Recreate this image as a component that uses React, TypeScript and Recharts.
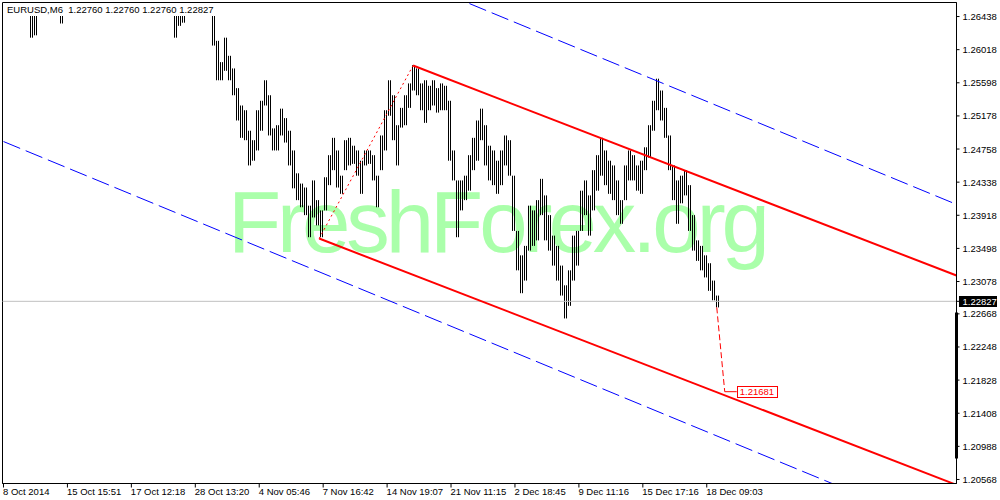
import React from 'react';
import {
  ComposedChart,
  Bar,
  XAxis,
  YAxis,
  ReferenceLine,
  ReferenceArea,
  ReferenceDot,
} from 'recharts';

const FONT = "'Liberation Sans', Arial, sans-serif";

const symbolInfo = 'EURUSD,M6  1.22760 1.22760 1.22760 1.22827';
const watermark = 'FreshForex.org';

// time axis: bar number (range bars, 2 px each in the terminal)
const timeTicks = [0, 32, 64, 96, 128, 160, 192, 224, 256, 288, 320, 352];
const timeLabels = [
  '8 Oct 2014', '15 Oct 15:51', '17 Oct 12:18', '28 Oct 13:20', '4 Nov 05:46', '7 Nov 16:42',
  '14 Nov 19:07', '21 Nov 11:15', '2 Dec 18:45', '9 Dec 11:16', '15 Dec 17:16', '18 Dec 09:03',
];

const priceTicks = [
  1.26438, 1.26018, 1.25598, 1.25178, 1.24758, 1.24338, 1.23918, 1.23498,
  1.23078, 1.22668, 1.22248, 1.21828, 1.21408, 1.20988, 1.20568,
];
const lastPrice = 1.22827;
const targetPrice = 1.21681;

const PRICE_MIN = 1.20517;
const PRICE_MAX = 1.26616;
const IDX_MIN = -0.5;
const IDX_MAX = 477;

// bars (one sample per pair of terminal bars)
const barIdx = [
  14, 16, 29, 86, 88, 90,
  105, 107, 109, 111, 113, 115, 117, 119, 121, 123, 125, 127, 129, 131, 133, 135, 137, 139,
  141, 143, 145, 147, 149, 151, 153, 155, 157, 159, 161, 163, 165, 167, 169, 171, 173, 175,
  177, 179, 181, 183, 185, 187, 189, 191, 193, 195, 197, 199, 201, 203, 205, 207, 209, 211,
  213, 215, 217, 219, 221, 223, 225, 227, 229, 231, 233, 235, 237, 239, 241, 243, 245, 247,
  249, 251, 253, 255, 257, 259, 261, 263, 265, 267, 269, 271, 273, 275, 277, 279, 281, 283,
  285, 287, 289, 291, 293, 295, 297, 299, 301, 303, 305, 307, 309, 311, 313, 315, 317, 319,
  321, 323, 325, 327, 329, 331, 333, 335, 337, 339, 341, 343, 345, 347, 349, 351, 353, 355, 357,
];
const barHigh = [
  1.2680, 1.2680, 1.2680, 1.2680, 1.2680, 1.2680,
  1.2680, 1.2613, 1.2586, 1.2617, 1.2594, 1.2578, 1.2553, 1.2531, 1.2525, 1.2499, 1.2487, 1.2525,
  1.2537, 1.2563, 1.2544, 1.2502, 1.2506, 1.2527, 1.2515, 1.2499, 1.2474, 1.2445, 1.2432, 1.2427,
  1.2404, 1.2436, 1.2411, 1.2398, 1.2440, 1.2468, 1.2490, 1.2474, 1.2442, 1.2487, 1.2490, 1.2480,
  1.2474, 1.2461, 1.2474, 1.2474, 1.2468, 1.2442, 1.2493, 1.2525, 1.2563, 1.2544, 1.2506, 1.2528,
  1.2544, 1.2559, 1.2582, 1.2578, 1.2559, 1.2563, 1.2556, 1.2563, 1.2553, 1.2559, 1.2556, 1.2537,
  1.2474, 1.2436, 1.2436, 1.2442, 1.2468, 1.2490, 1.2512, 1.2527, 1.2506, 1.2480, 1.2474, 1.2461,
  1.2474, 1.2493, 1.2487, 1.2442, 1.2372, 1.2341, 1.2353, 1.2404, 1.2398, 1.2411, 1.2438, 1.2417,
  1.2392, 1.2366, 1.2353, 1.2328, 1.2303, 1.2322, 1.2366, 1.2372, 1.2423, 1.2436, 1.2417, 1.2449,
  1.2468, 1.2490, 1.2474, 1.2461, 1.2455, 1.2436, 1.2411, 1.2455, 1.2474, 1.2468, 1.2455, 1.2461,
  1.2478, 1.2506, 1.2537, 1.2565, 1.2550, 1.2528, 1.2493, 1.2455, 1.2436, 1.2442, 1.2449, 1.2430,
  1.2392, 1.2360, 1.2353, 1.2341, 1.2331, 1.2309, 1.2290,
];
const barLow = [
  1.2617, 1.2620, 1.2635, 1.2617, 1.2632, 1.2636,
  1.2607, 1.2563, 1.2563, 1.2575, 1.2563, 1.2544, 1.2512, 1.2490, 1.2487, 1.2455, 1.2461, 1.2474,
  1.2499, 1.2531, 1.2493, 1.2474, 1.2474, 1.2493, 1.2484, 1.2455, 1.2426, 1.2411, 1.2402, 1.2392,
  1.2364, 1.2389, 1.2379, 1.2364, 1.2398, 1.2430, 1.2449, 1.2427, 1.2419, 1.2449, 1.2455, 1.2457,
  1.2442, 1.2419, 1.2455, 1.2457, 1.2436, 1.2402, 1.2449, 1.2474, 1.2518, 1.2487, 1.2455, 1.2503,
  1.2506, 1.2528, 1.2550, 1.2544, 1.2525, 1.2509, 1.2525, 1.2531, 1.2522, 1.2525, 1.2525, 1.2461,
  1.2436, 1.2364, 1.2398, 1.2411, 1.2423, 1.2449, 1.2461, 1.2487, 1.2455, 1.2436, 1.2430, 1.2419,
  1.2430, 1.2455, 1.2442, 1.2372, 1.2322, 1.2293, 1.2309, 1.2347, 1.2353, 1.2360, 1.2392, 1.2360,
  1.2347, 1.2328, 1.2309, 1.2290, 1.2261, 1.2277, 1.2309, 1.2328, 1.2372, 1.2392, 1.2366, 1.2398,
  1.2423, 1.2442, 1.2430, 1.2419, 1.2411, 1.2392, 1.2381, 1.2411, 1.2436, 1.2436, 1.2423, 1.2419,
  1.2449, 1.2465, 1.2499, 1.2525, 1.2512, 1.2490, 1.2449, 1.2411, 1.2381, 1.2407, 1.2417, 1.2372,
  1.2347, 1.2334, 1.2322, 1.2313, 1.2296, 1.2284, 1.2275,
];

// drawn objects: channel lines, swing line, target
const redUpper = [{ x: 205, y: 1.25817 }, { x: 477, y: 1.23154 }];
const redLower = [{ x: 158, y: 1.23623 }, { x: 477, y: 1.205 }];
const redSwing = [{ x: 158, y: 1.23623 }, { x: 205, y: 1.25817 }];
const blueUpper = [{ x: 0, y: 1.29038 }, { x: 477, y: 1.24056 }];
const blueLower = [{ x: 0, y: 1.24853 }, { x: 477, y: 1.19866 }];
const targetDrop = [{ x: 357, y: 1.2275 }, { x: 361, y: targetPrice }];
const targetLeg = [{ x: 361, y: targetPrice }, { x: 367, y: targetPrice }];
const scrollMark = [{ x: IDX_MAX, y: 1.22685 }, { x: IDX_MAX, y: 1.20834 }];

const data = barIdx.map((t, k) => ({ t, range: [barLow[k], barHigh[k]] }));

// each sample stands for two terminal bars: two thin strokes, 2px apart
const RangeBar = (p: any) => {
  if (p.height == null) return null;
  const cx = Math.round(p.x + p.width / 2);
  const h = Math.max(1, p.height);
  return (
    <g>
      <rect x={cx - 1} y={p.y} width={1} height={h} fill="#000" />
      <rect x={cx + 1} y={p.y} width={1} height={h} fill="#000" />
    </g>
  );
};

const TimeTick = ({ x, y, payload }: any) => {
  const label = timeLabels[timeTicks.indexOf(payload.value)];
  return (
    <text x={x - 0.5} y={y} dy={7.5} fontSize={9.5} fontFamily={FONT} fill="#000" textAnchor="start">
      {label}
    </text>
  );
};

const PriceTick = ({ x, y, payload }: any) => {
  const v = payload.value as number;
  if (v === lastPrice) {
    return (
      <g>
        <rect x={x - 3.5} y={Math.round(y) - 5} width={38} height={11} fill="#000" />
        <text x={x} y={y + 3.5} fontSize={9.5} fontFamily={FONT} fill="#fff" textAnchor="start">
          {v.toFixed(5)}
        </text>
      </g>
    );
  }
  return (
    <text x={x} y={y + 3.5} fontSize={9.5} fontFamily={FONT} fill="#000" textAnchor="start">
      {v.toFixed(5)}
    </text>
  );
};

const TargetTag = ({ cx, cy }: any) => (
  <g>
    <rect x={Math.round(cx) + 0.5} y={Math.round(cy) - 5.5} width={40} height={11} fill="#fff" stroke="#ff0000" />
    <text x={cx + 3} y={cy + 3.5} fontSize={9.5} fontFamily={FONT} fill="#ff0000">
      {targetPrice.toFixed(5)}
    </text>
  </g>
);

export default function App() {
  return (
    <div style={{ position: 'absolute', left: 0, top: 0, width: 1000, height: 500, background: '#fff' }}>
      <svg width={1000} height={500} style={{ position: 'absolute', left: 0, top: 0 }}>
        <text
          x={228}
          y={252}
          fontSize={87}
          fontFamily={FONT}
          fill="#aaffaa"
          textLength={542}
          lengthAdjust="spacing"
        >
          {watermark}
        </text>
      </svg>
      <div style={{ position: 'absolute', left: 0, top: 0 }}>
        <ComposedChart
          width={1000}
          height={500}
          data={data}
          margin={{ top: 2.5, right: 0, left: 2.5, bottom: 0 }}
        >
          <XAxis
            dataKey="t"
            type="number"
            domain={[IDX_MIN, IDX_MAX]}
            allowDataOverflow
            ticks={timeTicks}
            interval={0}
            height={16.5}
            axisLine={{ stroke: '#000' }}
            tickLine={{ stroke: '#000' }}
            tickSize={4}
            tickMargin={0}
            tick={<TimeTick />}
          />
          <YAxis
            orientation="right"
            type="number"
            domain={[PRICE_MIN, PRICE_MAX]}
            allowDataOverflow
            ticks={[...priceTicks, lastPrice]}
            interval={0}
            width={43.5}
            axisLine={{ stroke: '#000' }}
            tickLine={{ stroke: '#000' }}
            tickSize={3}
            tickMargin={3}
            tick={<PriceTick />}
          />
          <ReferenceArea
            x1={IDX_MIN}
            x2={IDX_MAX}
            y1={PRICE_MIN}
            y2={PRICE_MAX}
            fill="none"
            fillOpacity={0}
            stroke="#000"
            ifOverflow="visible"
          />
          <ReferenceLine y={lastPrice} stroke="#c0c0c0" />
          <ReferenceLine segment={blueUpper} stroke="#0000ff" strokeDasharray="18 6" ifOverflow="hidden" />
          <ReferenceLine segment={blueLower} stroke="#0000ff" strokeDasharray="18 6" ifOverflow="hidden" />
          <Bar dataKey="range" barSize={2} shape={RangeBar} isAnimationActive={false} />
          <ReferenceLine segment={redSwing} stroke="#ff0000" strokeDasharray="2 3" ifOverflow="hidden" />
          <ReferenceLine segment={redUpper} stroke="#ff0000" strokeWidth={2} ifOverflow="hidden" />
          <ReferenceLine segment={redLower} stroke="#ff0000" strokeWidth={2} ifOverflow="hidden" />
          <ReferenceLine segment={targetDrop} stroke="#ff0000" strokeDasharray="6 3" ifOverflow="hidden" />
          <ReferenceLine segment={targetLeg} stroke="#ff0000" ifOverflow="hidden" />
          <ReferenceDot x={367} y={targetPrice} shape={TargetTag} ifOverflow="visible" />
          <ReferenceLine segment={scrollMark} stroke="#000" strokeWidth={3} ifOverflow="visible" />
        </ComposedChart>
      </div>
      <div
        style={{
          position: 'absolute',
          left: 6,
          top: 3,
          paddingLeft: 1,
          paddingRight: 1,
          height: 13,
          fontFamily: FONT,
          fontSize: 9.5,
          lineHeight: '13px',
          color: '#000',
          background: '#fff',
          whiteSpace: 'pre',
        }}
      >
        {symbolInfo}
      </div>
    </div>
  );
}
